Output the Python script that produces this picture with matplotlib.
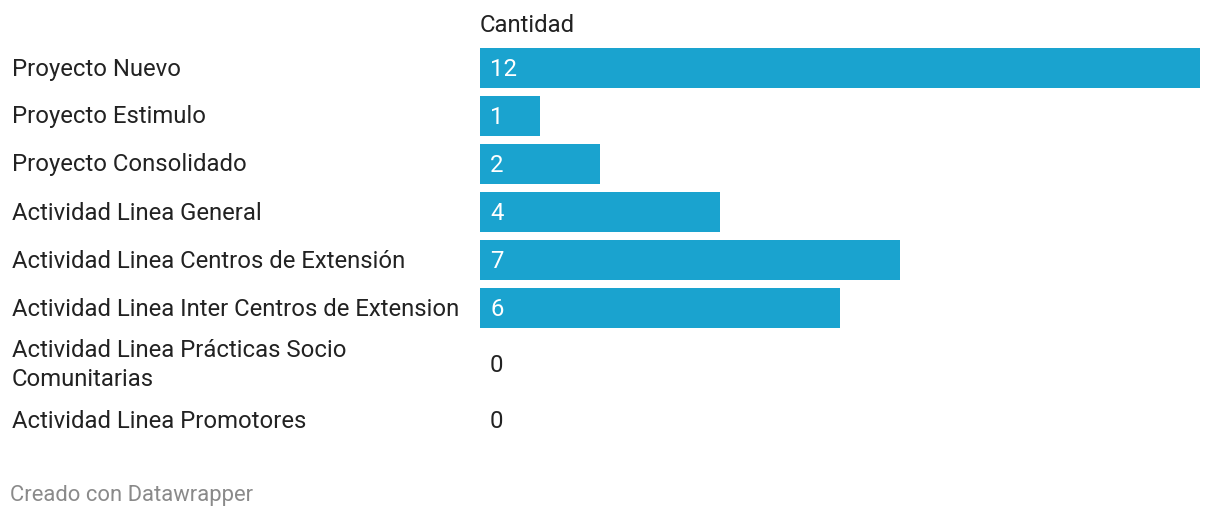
import numpy as np
import matplotlib
matplotlib.use("Agg")
import matplotlib.pyplot as plt
import matplotlib.transforms as mtransforms

categories = [
    "Proyecto Nuevo",
    "Proyecto Estimulo",
    "Proyecto Consolidado",
    "Actividad Linea General",
    "Actividad Linea Centros de Extensión",
    "Actividad Linea Inter Centros de Extension",
    "Actividad Linea Prácticas Socio\nComunitarias",
    "Actividad Linea Promotores",
]
cantidad = [12, 1, 2, 4, 7, 6, 0, 0]
header = "Cantidad"
footer = "Creado con Datawrapper"

W, H = 1220, 518
BAR_COLOR = "#1aa3cf"
TEXT_COLOR = "#222222"
plt.rcParams["font.family"] = ["Roboto", "DejaVu Sans"]

# row layout in pixels (two-line label gets a taller row)
row_h = np.array([48, 48, 48, 48, 48, 48, 64, 50])
row_top = 44 + np.concatenate([[0], np.cumsum(row_h)[:-1]])
row_mid = row_top + row_h / 2 + 1

fig = plt.figure(figsize=(W / 100, H / 100), dpi=100)
fig.patch.set_facecolor("white")

# bar axes: x from px 480 to 1200, y in pixel rows
ax = fig.add_axes([480 / W, 0, 720 / W, 1])
ax.set_xlim(0, max(cantidad))
ax.set_ylim(H, 0)
ax.axis("off")

ax.barh(row_mid - 1, cantidad, height=40, color=BAR_COLOR, left=0)

fs = 17.2
shift = ax.transData + mtransforms.ScaledTranslation(10 / 100, 0, fig.dpi_scale_trans)
for y, v, lab in zip(row_mid, cantidad, categories):
    fig.text(12 / W, 1 - y / H, lab, ha="left", va="center", fontsize=fs,
             color=TEXT_COLOR, linespacing=1.33)
    col = "white" if v > 0 else TEXT_COLOR
    ax.text(0, y, str(v), ha="left", va="center", fontsize=fs, color=col,
            transform=shift)

fig.text(480 / W, 1 - 25 / H, header, ha="left", va="center", fontsize=17.2, color=TEXT_COLOR)
fig.text(10 / W, 1 - 495 / H, footer, ha="left", va="center", fontsize=15.8, color="#8a8a8a")

fig.savefig("out.png", dpi=100, facecolor="white")
